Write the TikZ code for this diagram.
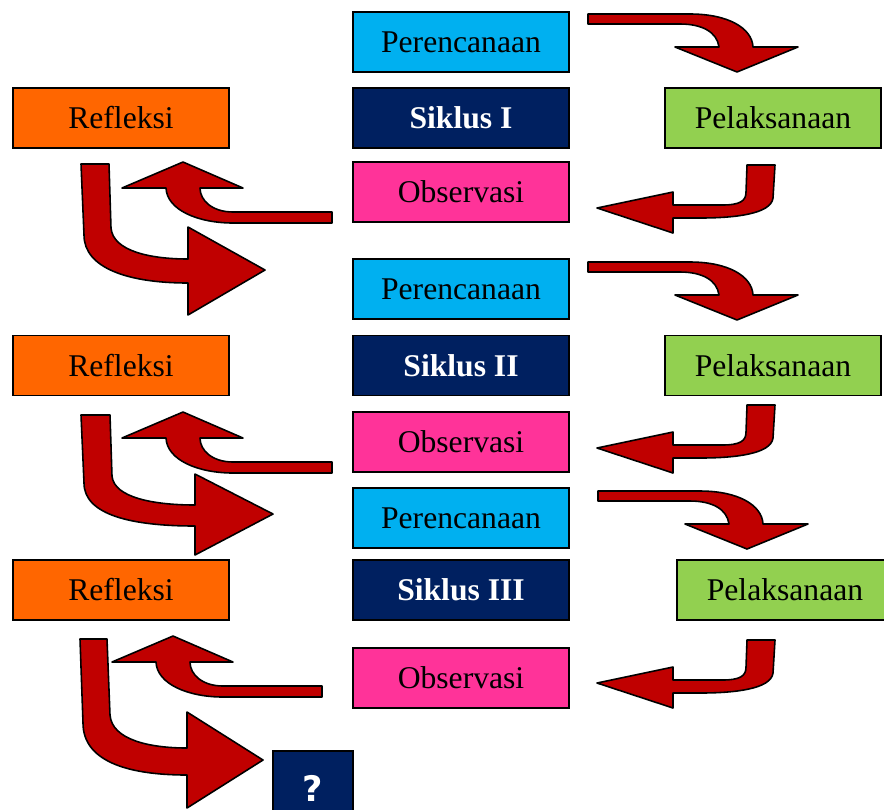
\documentclass[tikz,border=0pt]{standalone}
\usepackage{fontspec}
\setmainfont{Liberation Serif}
\newfontfamily\qfont{DejaVu Sans}
\definecolor{planblue}{HTML}{00B0F0}
\definecolor{navy}{HTML}{002060}
\definecolor{obspink}{HTML}{FF3399}
\definecolor{refor}{HTML}{FF6600}
\definecolor{pelgreen}{HTML}{92D050}
\definecolor{arrowred}{HTML}{C00000}
\begin{document}
\begin{tikzpicture}[x=0.02cm, y=-0.02cm,
    box/.style={draw=black, line width=1pt, minimum width=4.32cm, minimum height=1.2cm, inner sep=0pt, font=\fontsize{18}{20}\selectfont},
    blockarrow/.style={draw=black, line width=0.9pt, fill=arrowred, line join=round}]
    \useasboundingbox (0,0) rectangle (884,809);
    % siklus I
    \node[box, fill=planblue] (plan1) at (461,42) {Perencanaan};
    \node[box, fill=navy, text=white, font=\bfseries\fontsize{18}{20}\selectfont] (sik1) at (461,118) {Siklus I};
    \node[box, fill=obspink] (obs1) at (461,192) {Observasi};
    \node[box, fill=refor] (ref1) at (121,118) {Refleksi};
    \node[box, fill=pelgreen] (pel1) at (773,118) {Pelaksanaan};
    % siklus II
    \node[box, fill=planblue] (plan2) at (461,289) {Perencanaan};
    \node[box, fill=navy, text=white, font=\bfseries\fontsize{18}{20}\selectfont] (sik2) at (461,365.5) {Siklus II};
    \node[box, fill=obspink] (obs2) at (461,442) {Observasi};
    \node[box, fill=refor] (ref2) at (121,365.5) {Refleksi};
    \node[box, fill=pelgreen] (pel2) at (773,365.5) {Pelaksanaan};
    % siklus III
    \node[box, fill=planblue] (plan3) at (461,518) {Perencanaan};
    \node[box, fill=navy, text=white, font=\bfseries\fontsize{18}{20}\selectfont] (sik3) at (461,590) {Siklus III};
    \node[box, fill=obspink] (obs3) at (461,678) {Observasi};
    \node[box, fill=refor] (ref3) at (121,590) {Refleksi};
    \node[box, fill=pelgreen] (pel3) at (785,590) {Pelaksanaan};
    \node[box, fill=navy, text=white, minimum width=1.6cm, minimum height=1.48cm, font=\qfont\bfseries\fontsize{20}{22}\selectfont] (next) at (313,788) {?};
    % arrows
    \draw[blockarrow] (588,14) -- (690,14) .. controls (728,14) and (752,28) .. (753,47) -- (798,47) -- (737,72) -- (675,47) -- (719,47) .. controls (717,32) and (702,24) .. (680,24) -- (588,24) -- cycle;
    \draw[blockarrow] (747,165) -- (775,165) -- (773,198) .. controls (771,214) and (735,218) .. (700,218) -- (673,218) -- (673,233) -- (597,208) -- (673,192) -- (673,205) -- (722,205) .. controls (740,205) and (746,201) .. (746,192) -- cycle;
    \draw[blockarrow] (332,212) -- (233,212) .. controls (213,212) and (200,201) .. (200,188) -- (243,188) -- (183,162) -- (122,188) -- (166,188) .. controls (167,210) and (198,223) .. (233,223) -- (332,223) -- cycle;
    \draw[blockarrow] (81,164) -- (109,164) -- (111,228) .. controls (113,251) and (150,259) .. (188,259) -- (188,227) -- (265,270) -- (188,315) -- (188,283) .. controls (128,283) and (84,268) .. (84,235) -- cycle;
    \begin{scope}[shift={(0,248)}]
      \draw[blockarrow] (588,14) -- (690,14) .. controls (728,14) and (752,28) .. (753,47) -- (798,47) -- (737,72) -- (675,47) -- (719,47) .. controls (717,32) and (702,24) .. (680,24) -- (588,24) -- cycle;
    \end{scope}
    \begin{scope}[shift={(0,240)}]
      \draw[blockarrow] (747,165) -- (775,165) -- (773,198) .. controls (771,214) and (735,218) .. (700,218) -- (673,218) -- (673,233) -- (597,208) -- (673,192) -- (673,205) -- (722,205) .. controls (740,205) and (746,201) .. (746,192) -- cycle;
    \end{scope}
    \begin{scope}[shift={(0,250)}]
      \draw[blockarrow] (332,212) -- (233,212) .. controls (213,212) and (200,201) .. (200,188) -- (243,188) -- (183,162) -- (122,188) -- (166,188) .. controls (167,210) and (198,223) .. (233,223) -- (332,223) -- cycle;
    \end{scope}
    \draw[blockarrow] (81,415) -- (110,415) -- (112,476) .. controls (114,498) and (155,505) .. (195,505) -- (195,474) -- (273,514) -- (195,555) -- (195,526) .. controls (132,526) and (84,515) .. (84,483) -- cycle;
    \begin{scope}[shift={(10,477)}]
      \draw[blockarrow] (588,14) -- (690,14) .. controls (728,14) and (752,28) .. (753,47) -- (798,47) -- (737,72) -- (675,47) -- (719,47) .. controls (717,32) and (702,24) .. (680,24) -- (588,24) -- cycle;
    \end{scope}
    \begin{scope}[shift={(0,475)}]
      \draw[blockarrow] (747,165) -- (775,165) -- (773,198) .. controls (771,214) and (735,218) .. (700,218) -- (673,218) -- (673,233) -- (597,208) -- (673,192) -- (673,205) -- (722,205) .. controls (740,205) and (746,201) .. (746,192) -- cycle;
    \end{scope}
    \begin{scope}[shift={(-10,474)}]
      \draw[blockarrow] (332,212) -- (233,212) .. controls (213,212) and (200,201) .. (200,188) -- (243,188) -- (183,162) -- (122,188) -- (166,188) .. controls (167,210) and (198,223) .. (233,223) -- (332,223) -- cycle;
    \end{scope}
    \draw[blockarrow] (80,639) -- (107,639) -- (110,715) .. controls (112,740) and (150,748) .. (187,748) -- (187,712) -- (263,760) -- (187,808) -- (187,775) .. controls (125,775) and (83,760) .. (83,723) -- cycle;
\end{tikzpicture}
\end{document}
